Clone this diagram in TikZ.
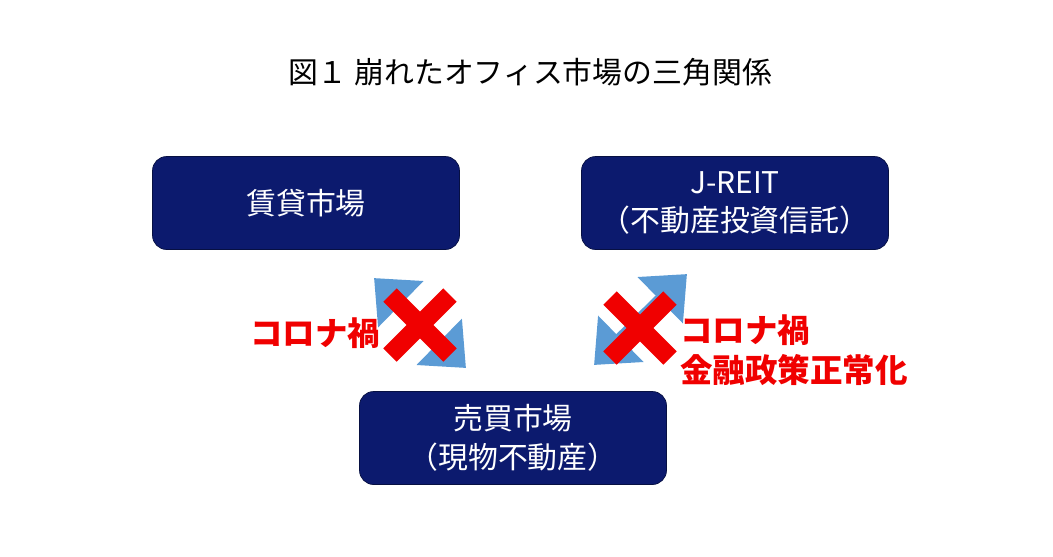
\documentclass[tikz,border=0pt]{standalone}
\usepackage{fontspec}
\setmainfont{Noto Sans CJK JP}
\usetikzlibrary{arrows.meta}
\definecolor{navy}{HTML}{0C1A6E}
\definecolor{arrowblue}{HTML}{5B9BD5}
\definecolor{xred}{HTML}{F00000}
\tikzset{
 market/.style={draw=navy!60!black,fill=navy,rounded corners=8pt,text=white,minimum width=6.14cm,minimum height=1.86cm,align=center,font=\fontsize{17}{22}\selectfont},
 note/.style={text=xred,font=\bfseries\fontsize{18.5}{23}\selectfont,align=left,inner sep=0pt},
 link/.style={draw=arrowblue!70!black,line width=0.26cm,{Triangle[width=1.25cm,length=0.75cm]}-{Triangle[width=1.25cm,length=0.75cm]},arrowblue},
 cross/.style={xred,line width=0.38cm}
}
\begin{document}
\begin{tikzpicture}[x=0.02cm,y=-0.02cm]
 \useasboundingbox (0,0) rectangle (1053,556);
 \node[font=\fontsize{17}{20}\selectfont] (title) at (530,72) {図１ 崩れたオフィス市場の三角関係};
 \node[market] (rent) at (306,203) {賃貸市場}; %賃貸
 \node[market] (reit) at (735,203) {J-REIT\\（不動産投資信託）}; %REIT
 \node[market] (sale) at (513,438) {売買市場\\（現物不動産）}; %売買

 \coordinate (L1) at (374,278); \coordinate (L2) at (466,368);
 \coordinate (R1) at (687,274); \coordinate (R2) at (594,365);
 \draw[link] (L1)--(L2);
 \draw[link] (R1)--(R2);

 \coordinate (XL) at (420,325); %左×
 \coordinate (XR) at (640,328); %右×
 \draw[cross] ([shift={(-30,-30)}]XL)--([shift={(30,30)}]XL);
 \draw[cross] ([shift={(-30,30)}]XL)--([shift={(30,-30)}]XL);
 \draw[cross] ([shift={(-30,-30)}]XR)--([shift={(30,30)}]XR);
 \draw[cross] ([shift={(-30,30)}]XR)--([shift={(30,-30)}]XR);

 \node[note,anchor=west] (covidL) at (250,333) {コロナ禍};
 \node[note,anchor=north west] (covidR) at (680,314) {コロナ禍\\金融政策正常化};
\end{tikzpicture}
\end{document}
